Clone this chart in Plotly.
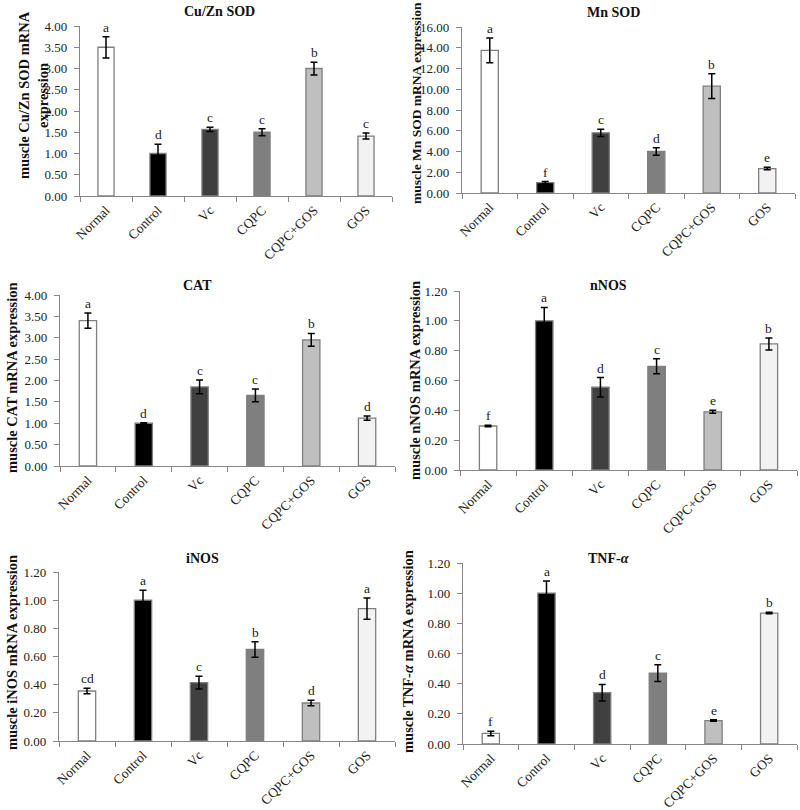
import plotly.graph_objects as go

groups = ["Normal", "Control", "Vc", "CQPC", "CQPC+GOS", "GOS"]
bar_colors = ["#ffffff", "#000000", "#404040", "#7f7f7f", "#bfbfbf", "#f2f2f2"]

cuzn_sod = [3.50, 1.00, 1.57, 1.50, 3.00, 1.41]
cuzn_err = [0.25, 0.22, 0.05, 0.08, 0.15, 0.07]
cuzn_let = ["a", "d", "c", "c", "b", "c"]

mn_sod = [13.75, 1.00, 5.80, 4.00, 10.30, 2.35]
mn_err = [1.20, 0.10, 0.35, 0.35, 1.20, 0.12]
mn_let = ["a", "f", "c", "d", "b", "e"]

cat = [3.40, 1.00, 1.85, 1.65, 2.95, 1.12]
cat_err = [0.18, 0.01, 0.16, 0.15, 0.15, 0.05]
cat_let = ["a", "d", "c", "c", "b", "d"]

nnos = [0.295, 1.00, 0.555, 0.695, 0.390, 0.845]
nnos_err = [0.005, 0.09, 0.065, 0.05, 0.01, 0.04]
nnos_let = ["f", "a", "d", "c", "e", "b"]

inos = [0.355, 1.00, 0.415, 0.650, 0.270, 0.940]
inos_err = [0.02, 0.07, 0.045, 0.055, 0.02, 0.075]
inos_let = ["cd", "a", "c", "b", "d", "a"]

tnf = [0.070, 1.00, 0.340, 0.470, 0.155, 0.868]
tnf_err = [0.015, 0.08, 0.055, 0.055, 0.005, 0.005]
tnf_let = ["f", "a", "d", "c", "e", "b"]

titles = ["Cu/Zn SOD", "Mn SOD", "CAT", "nNOS", "iNOS", "TNF-<i>α</i>"]
ylabels = ["muscle Cu/Zn SOD mRNA<br>expression", "muscle Mn SOD mRNA expression",
           "muscle CAT mRNA expression", "muscle nNOS mRNA expression",
           "muscle iNOS mRNA expression", "muscle TNF-<i>α</i> mRNA expression"]
y_max = [4.0, 16.0, 4.0, 1.2, 1.2, 1.2]
y_step = [0.5, 2.0, 0.5, 0.2, 0.2, 0.2]

panels = [(cuzn_sod, cuzn_err, cuzn_let), (mn_sod, mn_err, mn_let),
          (cat, cat_err, cat_let), (nnos, nnos_err, nnos_let),
          (inos, inos_err, inos_let), (tnf, tnf_err, tnf_let)]

W, H = 800, 810
# pixel boxes of each plot area: (x0, x1, ytop, ybottom)
boxes = [(80, 392, 26, 196), (462, 795, 27, 193),
         (60, 395, 295, 466), (460, 797, 291, 470),
         (59, 395, 572, 741), (463, 797, 563, 744)]
title_pos = [(219, 11), (613, 12), (197, 285), (608, 285), (202, 558), (608, 558)]
ylab_pos = [(34, 95), (417, 103), (12, 378), (415, 381), (12, 653), (408, 652)]
ylab_size = [14.5, 13.5, 14.5, 14.5, 14.5, 14.5]

FONT = "Liberation Serif"
AX = "#868686"

fig = go.Figure()
layout = dict(width=W, height=H,
              margin=dict(l=0, r=0, t=0, b=0, autoexpand=False),
              plot_bgcolor="white", paper_bgcolor="white", showlegend=False,
              bargap=0.69, font=dict(family=FONT, color="#222222"))
annotations = []

for i, (vals, errs, lets) in enumerate(panels):
    n = "" if i == 0 else str(i + 1)
    xa, ya = "x" + n, "y" + n
    x0, x1, yt, yb = boxes[i]
    fig.add_trace(go.Bar(
        x=groups, y=vals, xaxis=xa, yaxis=ya,
        marker=dict(color=bar_colors, line=dict(color="#7f7f7f", width=1.3)),
        error_y=dict(type="data", array=errs, visible=True, color="#000000",
                     thickness=1.5, width=3.5),
    ))
    layout["xaxis" + n] = dict(
        domain=[x0 / W, x1 / W], anchor=ya, type="category",
        showline=True, linecolor=AX, linewidth=1.2,
        ticks="outside", tickson="boundaries", ticklen=5, tickcolor=AX,
        tickangle=-45, tickfont=dict(family=FONT, size=13.5, color="#222222"),
        showgrid=False, zeroline=False,
    )
    layout["yaxis" + n] = dict(
        domain=[1 - yb / H, 1 - yt / H], anchor=xa,
        range=[0, y_max[i]], dtick=y_step[i], tick0=0, tickformat=".2f",
        showline=True, linecolor=AX, linewidth=1.2,
        ticks="outside", ticklen=5, tickcolor=AX, ticklabelstandoff=4,
        tickfont=dict(family=FONT, size=13, color="#222222"),
        showgrid=False, zeroline=False,
    )
    for g, v, e, t in zip(groups, vals, errs, lets):
        annotations.append(dict(
            x=g, y=v + e, xref=xa, yref=ya, text=t, showarrow=False,
            yanchor="bottom", yshift=0,
            font=dict(family=FONT, size=13.5, color="#222222"),
        ))
    tx, ty = title_pos[i]
    annotations.append(dict(
        x=tx / W, y=1 - ty / H, xref="paper", yref="paper",
        text="<b>" + titles[i] + "</b>", showarrow=False,
        xanchor="center", yanchor="middle",
        font=dict(family=FONT, size=14, color="#111111"),
    ))
    lx, ly = ylab_pos[i]
    annotations.append(dict(
        x=lx / W, y=1 - ly / H, xref="paper", yref="paper",
        text="<b>" + ylabels[i] + "</b>", showarrow=False, textangle=-90,
        xanchor="center", yanchor="middle",
        font=dict(family=FONT, size=ylab_size[i], color="#111111"),
    ))

layout["annotations"] = annotations
fig.update_layout(**layout)
fig.write_html(
    "out.html",
    config={"displayModeBar": False},
    post_script="document.body.style.margin='0';document.body.style.padding='0';"
                "document.body.style.overflow='hidden';",
)
